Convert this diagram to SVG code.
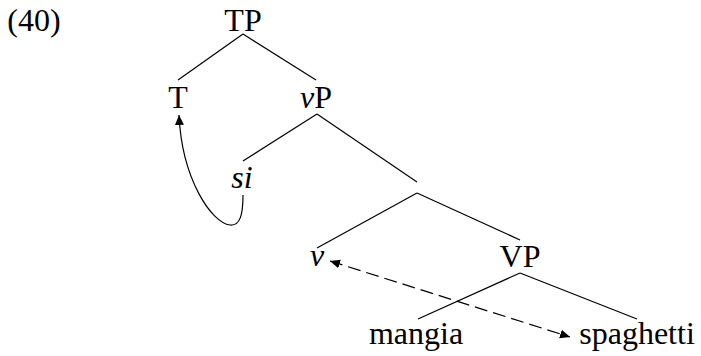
<svg xmlns="http://www.w3.org/2000/svg" width="701" height="356" viewBox="0 0 701 356">
<style>
text{font-family:"Liberation Serif","DejaVu Serif",serif;font-size:32px;fill:#000;text-anchor:middle}
.it{font-style:italic}
line,path{stroke:#000;stroke-width:1.2;fill:none}
</style>
<defs>
<marker id="ah" viewBox="0 0 10 10" refX="10" refY="5" markerWidth="10" markerHeight="10" markerUnits="userSpaceOnUse" orient="auto-start-reverse">
<path d="M0,0.5 L10,5 L0,9.5 Z" style="fill:#000;stroke:none"/>
</marker>
</defs>
<rect width="701" height="356" fill="#fff"/>
<text x="34" y="31">(40)</text>
<g id="TP"><text x="243" y="31">TP</text></g>
<g id="T"><text x="178" y="108">T</text></g>
<g id="vP"><text x="316" y="108"><tspan class="it">v</tspan>P</text></g>
<g id="si"><text class="it" x="242" y="188">si</text></g>
<g id="vbar"></g>
<g id="v"><text class="it" x="317" y="266">v</text></g>
<g id="VP"><text x="520" y="267">VP</text></g>
<g id="mangia"><text x="416" y="344">mangia</text></g>
<g id="spaghetti"><text x="637" y="344">spaghetti</text></g>
<g id="connectors">
<line x1="243" y1="34" x2="178" y2="80"/>
<line x1="243" y1="34" x2="316" y2="80"/>
<line x1="317" y1="114" x2="243" y2="161"/>
<line x1="317" y1="114" x2="417" y2="182"/>
<line x1="417" y1="193" x2="317" y2="248"/>
<line x1="417" y1="193" x2="520" y2="240"/>
<line x1="520" y1="273" x2="418" y2="319"/>
<line x1="520" y1="273" x2="637" y2="319"/>
<path d="M243,195 C243,215 240,226 230,225 C212,223 182,180 179,115" marker-end="url(#ah)"/>
<line x1="330" y1="261" x2="570" y2="337" stroke-dasharray="13,6" marker-start="url(#ah)" marker-end="url(#ah)"/>
</g>
</svg>
